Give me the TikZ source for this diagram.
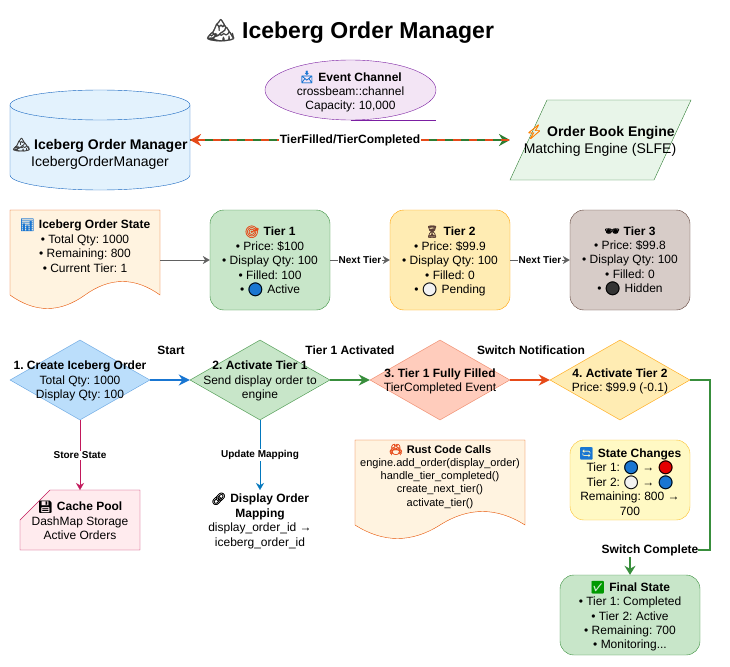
\documentclass[tikz,border=0pt]{standalone}
\usepackage{fontspec}
\setmainfont{Liberation Sans}
\newfontfamily\emojifont[FakeBold=1.2]{Noto Emoji}
\newfontfamily\dotfont{DejaVu Sans}
\usetikzlibrary{arrows.meta, shapes.geometric}
\lineskiplimit=-20pt
\frenchspacing
\definecolor{bluefill}{HTML}{BBDEFB}
\definecolor{blueline}{HTML}{1976D2}
\definecolor{greenfill}{HTML}{C8E6C9}
\definecolor{greenline}{HTML}{388E3C}
\definecolor{redfill}{HTML}{FFCCBC}
\definecolor{redline}{HTML}{E64A19}
\definecolor{amberfill}{HTML}{FFECB3}
\definecolor{amberline}{HTML}{FFA000}
\definecolor{brownfill}{HTML}{D7CCC8}
\definecolor{brownline}{HTML}{5D4037}
\definecolor{pinkfill}{HTML}{FFEBEE}
\definecolor{pinkline}{HTML}{C2185B}
\definecolor{docfill}{HTML}{FFF3E0}
\definecolor{docline}{HTML}{E65100}
\definecolor{edgegray}{HTML}{616161}
\definecolor{mapline}{HTML}{0277BD}
\definecolor{cylfill}{HTML}{E3F2FD}
\definecolor{cylline}{HTML}{1565C0}
\definecolor{chanfill}{HTML}{F3E5F5}
\definecolor{chanline}{HTML}{7B1FA2}
\definecolor{engfill}{HTML}{E8F5E9}
\definecolor{engline}{HTML}{2E7D32}
\definecolor{notefill}{HTML}{FFF9C4}
\definecolor{noteline}{HTML}{FBC02D}
\newcommand{\emo}[2]{{\emojifont\textcolor{#1}{#2}}}
\newcommand{\tdot}[1]{{\dotfont\fontsize{18}{14}\selectfont\raisebox{-1pt}{\rlap{\textcolor{#1}{●}}○}}}
\tikzset{
  >={Stealth[length=7pt,width=8pt]},
  txt/.style={inner sep=0pt, align=center, text=black, font=\fontsize{12}{14.4}\selectfont},
  midtxt/.style={txt, yshift=-1.2pt},
  bigtxt/.style={inner sep=0pt, align=center, font=\fontsize{14}{16.8}\selectfont},
  smalltxt/.style={inner sep=0pt, align=center, yshift=-1.2pt, font=\fontsize{11}{13.2}\selectfont},
  tierbox/.style={draw, rectangle, rounded corners=14pt, minimum width=120pt, minimum height=100pt},
  flow/.style={draw, diamond, aspect=1.75, inner sep=0pt, minimum width=140pt, minimum height=80pt},
  bigarrow/.style={->, line width=2pt, >={Stealth[length=11pt,width=11pt]}},
  elabel/.style={fill=white, text=black, inner sep=1pt, font=\fontsize{10}{12}\selectfont\bfseries},
  flabel/.style={inner sep=0pt, text=black, font=\fontsize{12}{14.4}\selectfont\bfseries},
}
\begin{document}
\begin{tikzpicture}[x=1pt,y=-1pt]
\useasboundingbox (0,0) rectangle (730,666);
\node[inner sep=0pt, font=\fontsize{23}{26}\selectfont] (title) at (350,31) {\emo{darkgray}{🏔}\hspace{7pt}\textbf{Iceberg Order Manager}};

% top row
\draw[fill=cylfill, draw=cylline] (10,105) -- (10,175) arc[start angle=180, end angle=0, x radius=90, y radius=15] -- (190,105) -- cycle;
\draw[fill=cylfill, draw=cylline] (100,105) ellipse[x radius=90, y radius=15];
\node[bigtxt] (manager) at (100,153.5) {\emo{darkgray}{🏔}\hspace{4pt}\textbf{Iceberg Order Manager}\\IcebergOrderManager};
\coordinate (managerend) at (190,140);
\node[draw=chanline, fill=chanfill, ellipse, minimum width=171pt, minimum height=60pt, inner sep=0pt] (channel) at (350.5,90) {};
\draw[draw=chanline] (channel.south) -- ++(85.5,0);
\node[midtxt] (channeltxt) at (350.5,90.5) {\emo{blueline}{📩}\hspace{4pt}\textbf{Event Channel}\\crossbeam::channel\\Capacity: 10,000};
\draw[fill=engfill, draw=engline] (547,100) -- (691,100) -- (654,180) -- (510,180) -- cycle;
\node[bigtxt] (engine) at (600,140.5) {\emo{orange}{⚡}\hspace{4pt}\textbf{Order Book Engine}\\Matching Engine (SLFE)};
\coordinate (engineend) at (510,140);
\draw[engline, ->, line width=2pt, >={Stealth[length=11pt,width=12pt]}] (managerend) -- (engineend);
\draw[redline, <-, line width=2pt, dash pattern=on 8pt off 8pt, >={Stealth[length=11pt,width=12pt]}] (managerend) -- (engineend) node[midway, fill=white, text=black, inner sep=1pt, font=\fontsize{12}{14.4}\selectfont\bfseries] (tierlabel) {TierFilled/TierCompleted};

% tier row
\draw[fill=docfill, draw=docline] (10,210) -- (160,210) -- (160,295) .. controls (135,277) and (110,277) .. (85,295) .. controls (60,313) and (35,313) .. (10,295) -- cycle;
\node[txt] (state) at (85,245.5) {\emo{blueline}{📊}\hspace{4pt}\textbf{Iceberg Order State}\\• Total Qty: 1000\\• Remaining: 800\\• Current Tier: 1};
\coordinate (stateend) at (160,260);
\node[tierbox, fill=greenfill, draw=greenline] (tier1) at (270,260) {};
\node[midtxt] at (tier1) {\emo{redline}{🎯}\hspace{4pt}\textbf{Tier 1}\\• Price: \$100\\• Display Qty: 100\\• Filled: 100\\• \tdot{blueline}\hspace{4pt}Active};
\node[tierbox, fill=amberfill, draw=amberline] (tier2) at (450,260) {};
\node[midtxt] at (tier2) {\emo{brownline}{⏳}\hspace{4pt}\textbf{Tier 2}\\• Price: \$99.9\\• Display Qty: 100\\• Filled: 0\\• \tdot{gray!10}\hspace{4pt}Pending};
\node[tierbox, fill=brownfill, draw=brownline] (tier3) at (630,260) {};
\node[midtxt] at (tier3) {\emo{black}{🕶}\hspace{4pt}\textbf{Tier 3}\\• Price: \$99.8\\• Display Qty: 100\\• Filled: 0\\• \tdot{black!80}\hspace{4pt}Hidden};
\draw[->, edgegray] (stateend) -- (tier1.west);
\draw[->, edgegray] (tier1.east) -- (tier2.west) node[midway, elabel] (next1) {Next Tier};
\draw[->, edgegray] (tier2.east) -- (tier3.west) node[midway, elabel] (next2) {Next Tier};

% flow row
\node[flow, fill=bluefill, draw=blueline!70!white] (create) at (80,380) {};
\node[midtxt] at (create) {\textbf{1. Create Iceberg Order}\\Total Qty: 1000\\Display Qty: 100};
\node[flow, fill=greenfill, draw=greenline] (activate1) at (260,380) {};
\node[midtxt] at (activate1) {\textbf{2. Activate Tier 1}\\Send display order to\\engine};
\node[flow, fill=redfill, draw=redline!70!white] (filled) at (440,380) {};
\node[midtxt] at (filled) {\textbf{3. Tier 1 Fully Filled}\\TierCompleted Event};
\node[flow, fill=amberfill, draw=amberline] (activate2) at (620,380) {};
\node[midtxt] at (activate2) {\textbf{4. Activate Tier 2}\\Price: \$99.9 (-0.1)};
\draw[bigarrow, blueline] (create.east) -- (activate1.west);
\draw[bigarrow, greenline] (activate1.east) -- (filled.west);
\draw[bigarrow, redline] (filled.east) -- (activate2.west);
\node[flabel] (startlabel) at (171,350) {Start};
\node[flabel] (activatedlabel) at (350,350) {Tier 1 Activated};
\node[flabel] (switchlabel) at (531,350) {Switch Notification};

% bottom row
\draw[fill=pinkfill, draw=pinkline] (50,490) -- (140,490) -- (140,550) -- (20,550) -- (20,520) -- cycle;
\coordinate (cachetop) at (80,490);
\node[midtxt] (cache) at (80,519) {\emo{black}{💾}\hspace{4pt}\textbf{Cache Pool}\\DashMap Storage\\Active Orders};
\draw[->, pinkline] (create.south) -- (cachetop) node[midway, elabel] (storelabel) {Store State};
\coordinate (mappingtop) at (260,490);
\node[midtxt] (mapping) at (260,519.5) {\emo{black}{🔗}\hspace{4pt}\textbf{Display Order}\\\textbf{Mapping}\\display\_order\_id →\\iceberg\_order\_id};
\draw[->, mapline] (activate1.south) -- (mappingtop) node[midway, elabel] (updatelabel) {Update Mapping};
\draw[fill=docfill, draw=docline] (355,440) -- (525,440) -- (525,525) .. controls (496.67,507) and (468.33,507) .. (440,525) .. controls (411.67,543) and (383.33,543) .. (355,525) -- cycle;
\node[smalltxt] (rust) at (440,475) {\emo{redline}{🦀}\hspace{4pt}\textbf{Rust Code Calls}\\engine.add\_order(display\_order)\\handle\_tier\_completed()\\create\_next\_tier()\\activate\_tier()};
\node[tierbox, minimum height=80pt, fill=notefill, draw=noteline] (changes) at (630,480) {};
\node[midtxt] at (changes) {\emo{blueline}{🔄}\hspace{4pt}\textbf{State Changes}\\Tier 1: \tdot{blueline} → \tdot{red!90!black}\\Tier 2: \tdot{gray!10} → \tdot{blueline}\\Remaining: 800 →\\700};
\node[tierbox, minimum width=140pt, minimum height=80pt, fill=greenfill, draw=greenline] (final) at (630,615) {};
\node[midtxt] at (final) {\emo{green!60!black}{✅}\hspace{4pt}\textbf{Final State}\\• Tier 1: Completed\\• Tier 2: Active\\• Remaining: 700\\• Monitoring...};
\draw[bigarrow, greenline, >={Stealth[length=9pt,width=11pt]}] (activate2.east) -| (710,550) -| (final.north);
\node[flabel, fill=white, inner ysep=1pt] (completelabel) at (650,550) {Switch Complete};
\end{tikzpicture}
\end{document}
